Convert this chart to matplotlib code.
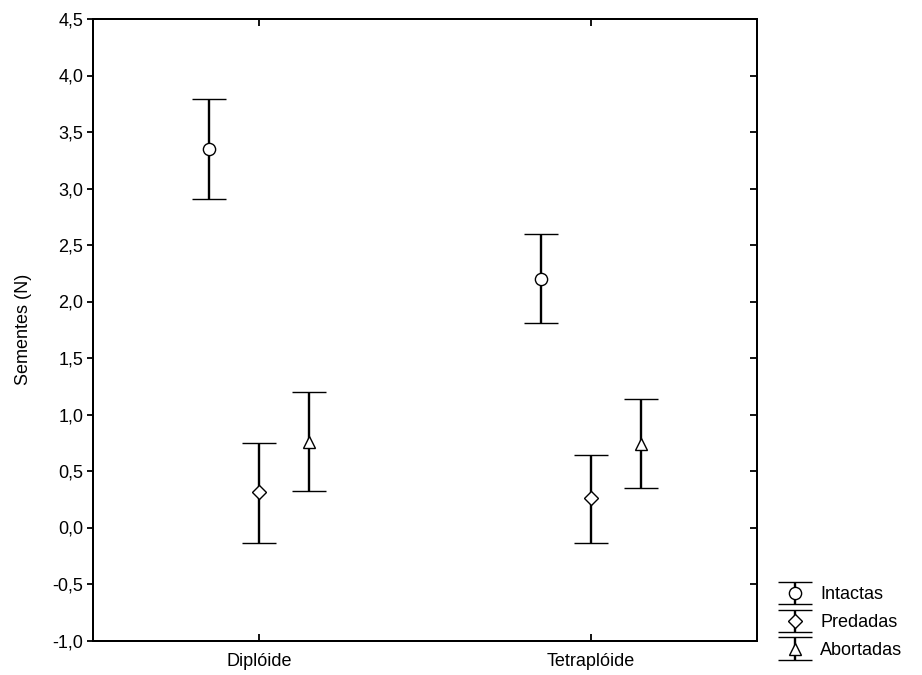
import numpy as np
import matplotlib
matplotlib.use("Agg")
import matplotlib.pyplot as plt
from matplotlib.legend_handler import HandlerErrorbar
from matplotlib.container import ErrorbarContainer

plt.rcParams['font.family'] = ['Liberation Sans', 'DejaVu Sans']

groups = ['Diplóide', 'Tetraplóide']
series = ['Intactas', 'Predadas', 'Abortadas']
markers = ['o', 'D', '^']
marker_sizes = [8.8, 7.4, 9.0]

# mean, lower and upper limits per series (Diplóide, Tetraplóide)
means = {
    'Intactas': [3.35, 2.20],
    'Predadas': [0.31, 0.26],
    'Abortadas': [0.76, 0.74],
}
lower = {
    'Intactas': [2.91, 1.81],
    'Predadas': [-0.135, -0.14],
    'Abortadas': [0.32, 0.35],
}
upper = {
    'Intactas': [3.79, 2.60],
    'Predadas': [0.745, 0.64],
    'Abortadas': [1.20, 1.135],
}
offsets = [-0.15, 0.0, 0.15]
yticks = np.arange(-1.0, 4.51, 0.5)

fig = plt.figure(figsize=(9.22, 6.75), dpi=100)
ax = fig.add_axes([93 / 922, 1 - 640.5 / 675, 664 / 922, 621.5 / 675])

x = np.arange(len(groups))
handles = []
for name, mk, ms, off in zip(series, markers, marker_sizes, offsets):
    m = np.array(means[name])
    lo = m - np.array(lower[name])
    hi = np.array(upper[name]) - m
    h = ax.errorbar(x + off, m, yerr=[lo, hi], fmt=mk, ms=ms, mfc='white',
                    mec='black', mew=1.0, color='black', ecolor='black',
                    elinewidth=1.7, capsize=12.2, capthick=1.7, ls='none',
                    label=name)
    handles.append(h)

ax.set_xlim(-0.5, 1.5)
ax.set_ylim(-1.0, 4.5)
ax.set_yticks(yticks)
ax.set_yticklabels([f'{v:.1f}'.replace('.', ',') for v in yticks])
ax.set_xticks(x)
ax.set_xticklabels(groups)

ax.tick_params(axis='y', left=True, right=False, direction='out',
               length=4, width=1.3, labelsize=13, pad=3)
ax.tick_params(axis='x', top=True, bottom=True, direction='in', length=5,
               width=1.3, labelsize=13, pad=9)

# inward ticks on the right spine
ax2 = ax.twinx()
ax2.set_ylim(ax.get_ylim())
ax2.set_yticks(yticks)
ax2.tick_params(axis='y', right=True, direction='in', length=5, width=1.3,
                labelright=False)

for a in (ax, ax2):
    for s in a.spines.values():
        s.set_linewidth(1.4)

ax.set_ylabel('Sementes (N)', fontsize=13)
ax.yaxis.set_label_coords(-0.092, 0.5)

fig.legend(handles=handles, labels=series, loc='lower left',
           bbox_to_anchor=(776 / 922, 1 - 659 / 675), frameon=False,
           fontsize=13, handlelength=2.05, handletextpad=0.4,
           labelspacing=0.6, borderpad=0, borderaxespad=0,
           handler_map={ErrorbarContainer: HandlerErrorbar(xerr_size=0.5, yerr_size=0.62)})

fig.savefig('out.png', dpi=100)
